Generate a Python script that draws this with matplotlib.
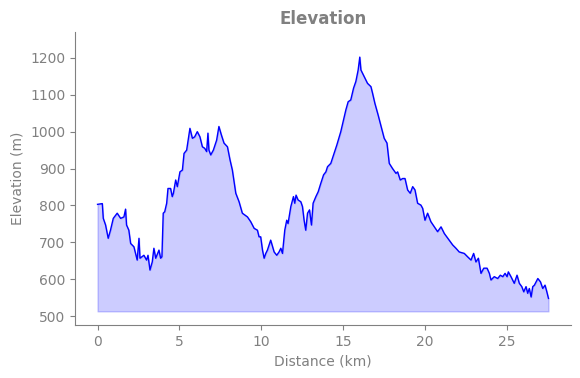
import numpy as np
import matplotlib.pyplot as plt

# distance along the route (km) and elevation (m)
distance_km = [
    0.0, 0.29, 0.35, 0.49, 0.65, 0.79, 0.96, 1.2, 1.41, 1.61, 1.71, 1.77, 1.91, 2.02,
    2.22, 2.42, 2.53, 2.59, 2.83, 2.99, 3.08, 3.2, 3.34, 3.44, 3.55, 3.75, 3.85, 3.93,
    4.01, 4.1, 4.22, 4.3, 4.46, 4.56, 4.63, 4.77, 4.87, 5.03, 5.18, 5.28, 5.44, 5.52,
    5.64, 5.79, 5.93, 6.09, 6.25, 6.4, 6.54, 6.66, 6.74, 6.8, 6.91, 7.07, 7.27, 7.41,
    7.56, 7.72, 7.93, 8.09, 8.23, 8.44, 8.64, 8.84, 9.15, 9.35, 9.56, 9.76, 9.86, 9.96,
    10.07, 10.17, 10.27, 10.37, 10.57, 10.78, 10.94, 11.08, 11.19, 11.29, 11.43, 11.55,
    11.63, 11.8, 11.96, 12.04, 12.12, 12.24, 12.41, 12.51, 12.61, 12.71, 12.82, 12.94,
    13.06, 13.16, 13.33, 13.47, 13.63, 13.8, 13.94, 14.04, 14.24, 14.44, 14.61, 14.85,
    15.02, 15.16, 15.3, 15.46, 15.63, 15.77, 15.91, 16.01, 16.08, 16.28, 16.48, 16.69,
    16.79, 16.93, 17.13, 17.34, 17.5, 17.67, 17.81, 18.01, 18.22, 18.32, 18.48, 18.63,
    18.77, 18.93, 19.09, 19.24, 19.38, 19.54, 19.74, 19.85, 19.99, 20.15, 20.35, 20.56,
    20.76, 20.97, 21.17, 21.47, 21.68, 21.88, 22.08, 22.39, 22.59, 22.8, 22.96, 23.1,
    23.25, 23.41, 23.58, 23.78, 23.92, 24.02, 24.22, 24.43, 24.59, 24.74, 24.88, 25.0,
    25.08, 25.24, 25.44, 25.61, 25.75, 25.9, 26.02, 26.16, 26.26, 26.36, 26.47, 26.57,
    26.67, 26.88, 27.04, 27.18, 27.32, 27.43, 27.53,
]
elevation_m = [
    803, 805, 765, 747, 711, 733, 765, 779, 765, 769, 790, 747, 733, 697,
    688, 652, 711, 657, 665, 652, 665, 625, 647, 684, 657, 679, 657, 661,
    779, 783, 806, 846, 846, 824, 833, 869, 851, 891, 896, 941, 950, 973,
    1009, 982, 986, 1000, 986, 959, 955, 946, 996, 950, 937, 950, 977, 1014,
    991, 969, 959, 923, 896, 833, 810, 779, 769, 756, 738, 733, 715, 715,
    679, 657, 670, 679, 706, 674, 665, 674, 684, 670, 733, 760,
    751, 797, 824, 806, 828, 815, 810, 797, 760, 733, 779, 788,
    747, 806, 824, 837, 860, 883, 891, 905, 914, 941, 964, 1000,
    1032, 1059, 1081, 1086, 1118, 1136, 1167, 1202, 1167, 1149, 1131, 1122,
    1104, 1077, 1045, 1009, 982, 969, 914, 900, 887, 891, 869, 873,
    873, 842, 833, 851, 842, 806, 801, 792, 760, 779, 756, 742,
    729, 742, 724, 706, 693, 684, 674, 670, 661, 652, 670, 647,
    657, 616, 630, 630, 616, 598, 607, 602, 611, 607, 616, 607,
    620, 607, 589, 611, 589, 580, 566, 580, 562, 575, 552, 580,
    584, 602, 593, 575, 584, 566, 548,
]
fill_base = 513  # bottom of the shaded area

x = np.array(distance_km)
y = np.array(elevation_m)

fig = plt.figure(figsize=(5.8, 3.78), dpi=100)
ax = fig.add_axes([0.1293, 0.1402, 0.8552, 0.7751])

ax.fill_between(x, y, fill_base, color='blue', alpha=0.2)
ax.plot(x, y, color='blue', linewidth=1)

ax.set_ylim(476, 1270)
ax.set_title('Elevation', color='gray', fontsize=12, fontweight='bold')
ax.set_xlabel('Distance (km)', color='gray', fontsize=10)
ax.set_ylabel('Elevation (m)', color='gray', fontsize=10)

for side in ['top', 'right']:
    ax.spines[side].set_visible(False)
for side in ['left', 'bottom']:
    ax.spines[side].set_color('gray')
ax.tick_params(colors='gray', labelsize=10)

fig.savefig('out.png', dpi=100)
